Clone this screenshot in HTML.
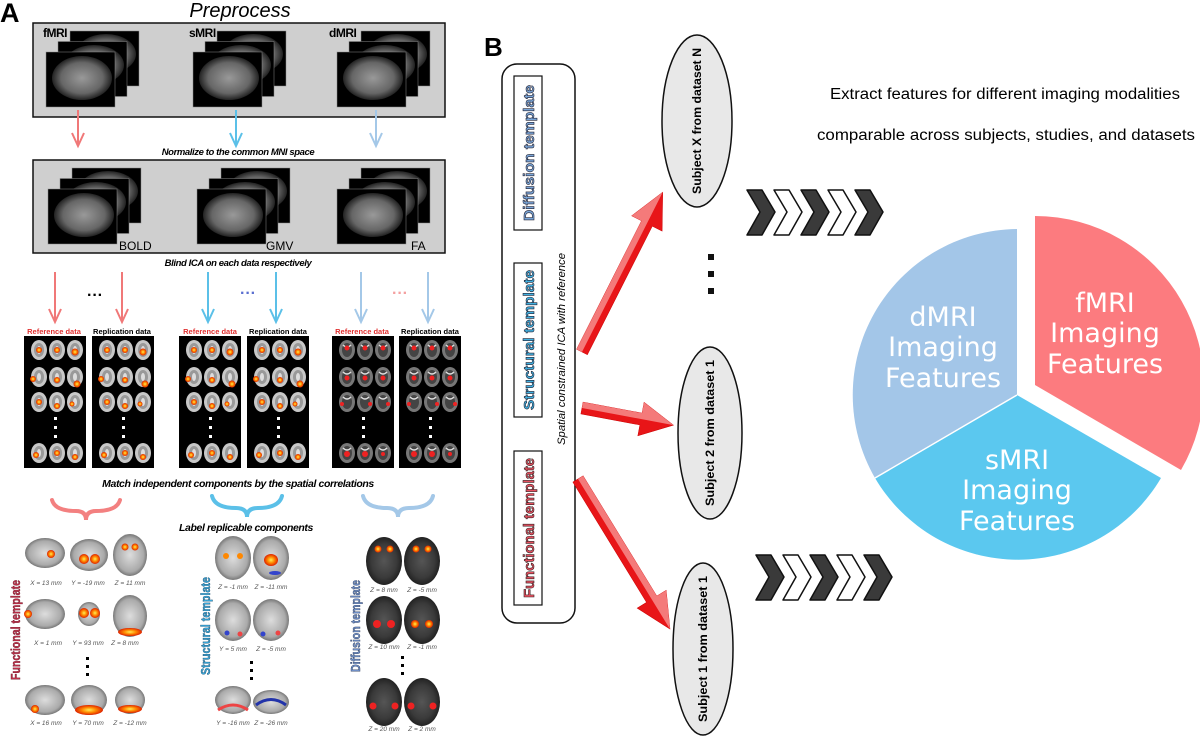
<!DOCTYPE html>
<html><head><meta charset="utf-8"><style>
html,body{margin:0;padding:0;background:#fff;}
svg{display:block;font-family:"Liberation Sans",sans-serif;}
</style></head><body>
<svg width="1200" height="736" viewBox="0 0 1200 736" xmlns="http://www.w3.org/2000/svg">
<defs>
<radialGradient id="gb" cx="50%" cy="50%" r="50%"><stop offset="0" stop-color="#999"/><stop offset="0.7" stop-color="#666"/><stop offset="1" stop-color="#222"/></radialGradient>
<radialGradient id="gw" cx="50%" cy="50%" r="50%"><stop offset="0" stop-color="#ddd"/><stop offset="0.8" stop-color="#aaa"/><stop offset="1" stop-color="#777"/></radialGradient>
<radialGradient id="hot" cx="50%" cy="50%" r="50%"><stop offset="0" stop-color="#ffee55"/><stop offset="0.5" stop-color="#ff8800"/><stop offset="1" stop-color="#dd2200"/></radialGradient>
<radialGradient id="dg" cx="50%" cy="50%" r="50%"><stop offset="0" stop-color="#555"/><stop offset="0.7" stop-color="#3a3a3a"/><stop offset="1" stop-color="#222"/></radialGradient>
<symbol id="br" overflow="visible"><ellipse cx="0" cy="0" rx="8" ry="10" fill="#c8c8c8"/><ellipse cx="0" cy="0" rx="5" ry="7" fill="#999"/><ellipse cx="0" cy="0" rx="2" ry="4" fill="#ddd"/></symbol>
<symbol id="bd" overflow="visible"><ellipse cx="0" cy="0" rx="8" ry="10" fill="#777"/><ellipse cx="0" cy="0" rx="5" ry="7" fill="#444"/><path d="M-4,-5 Q0,-1 4,-5" stroke="#ddd" stroke-width="1.3" fill="none"/></symbol>
<g id="panelW">
<rect x="0" y="0" width="62" height="132" fill="#000"/>
<use href="#br" x="15" y="14"/><use href="#br" x="33" y="14"/><use href="#br" x="51" y="14"/>
<use href="#br" x="15" y="41"/><use href="#br" x="33" y="41"/><use href="#br" x="51" y="41"/>
<use href="#br" x="15" y="66"/><use href="#br" x="33" y="66"/><use href="#br" x="51" y="66"/>
<use href="#br" x="15" y="117"/><use href="#br" x="33" y="117"/><use href="#br" x="51" y="117"/>
<rect x="30" y="81" width="3" height="3" fill="#fff"/><rect x="30" y="90" width="3" height="3" fill="#fff"/><rect x="30" y="99" width="3" height="3" fill="#fff"/>
<circle cx="15" cy="14" r="3" fill="url(#hot)"/><circle cx="33" cy="14" r="3" fill="url(#hot)"/><circle cx="51" cy="16" r="3.5" fill="url(#hot)"/>
<circle cx="9" cy="43" r="3" fill="url(#hot)"/><circle cx="33" cy="44" r="3" fill="url(#hot)"/><circle cx="53" cy="48" r="3.5" fill="url(#hot)"/>
<circle cx="15" cy="66" r="3" fill="url(#hot)"/><circle cx="33" cy="70" r="3" fill="url(#hot)"/><circle cx="48" cy="68" r="2.5" fill="url(#hot)"/>
<circle cx="12" cy="119" r="3" fill="url(#hot)"/><circle cx="33" cy="117" r="3" fill="url(#hot)"/><circle cx="51" cy="121" r="3" fill="url(#hot)"/>
</g>
<g id="panelD">
<rect x="0" y="0" width="62" height="132" fill="#000"/>
<use href="#bd" x="15" y="14"/><use href="#bd" x="33" y="14"/><use href="#bd" x="51" y="14"/>
<use href="#bd" x="15" y="41"/><use href="#bd" x="33" y="41"/><use href="#bd" x="51" y="41"/>
<use href="#bd" x="15" y="66"/><use href="#bd" x="33" y="66"/><use href="#bd" x="51" y="66"/>
<use href="#bd" x="15" y="117"/><use href="#bd" x="33" y="117"/><use href="#bd" x="51" y="117"/>
<rect x="30" y="81" width="3" height="3" fill="#fff"/><rect x="30" y="90" width="3" height="3" fill="#fff"/><rect x="30" y="99" width="3" height="3" fill="#fff"/>
<circle cx="15" cy="12" r="2.5" fill="#e22"/><circle cx="33" cy="12" r="2.5" fill="#e22"/><circle cx="51" cy="12" r="2.5" fill="#e22"/>
<circle cx="15" cy="42" r="2.5" fill="#e22"/><circle cx="33" cy="42" r="2.5" fill="#e22"/><circle cx="51" cy="42" r="2.5" fill="#e22"/>
<circle cx="10" cy="68" r="2" fill="#e22"/><circle cx="38" cy="68" r="2" fill="#e22"/><circle cx="56" cy="68" r="2" fill="#e22"/>
<circle cx="15" cy="118" r="3" fill="#e22"/><circle cx="33" cy="118" r="3" fill="#e22"/><circle cx="51" cy="118" r="2" fill="#e22"/>
</g>
<symbol id="stk" overflow="visible">
<rect x="24" y="-21" width="69" height="55" fill="#000" stroke="#888" stroke-width="0.5"/>
<ellipse cx="60" cy="2" rx="30" ry="20" fill="url(#gb)"/>
<rect x="12" y="-10.5" width="69" height="55" fill="#000" stroke="#888" stroke-width="0.5"/>
<ellipse cx="48" cy="13" rx="30" ry="20" fill="url(#gb)"/>
<rect x="0" y="0" width="69" height="55" fill="#000" stroke="#888" stroke-width="0.5"/>
<ellipse cx="36" cy="26" rx="30" ry="22" fill="url(#gb)"/>
</symbol>
</defs>

<!-- PANEL A -->
<text x="0" y="22" font-size="27" font-weight="bold">A</text>
<text x="240" y="17" font-size="20" font-style="italic" text-anchor="middle">Preprocess</text>
<rect x="33" y="23" width="412" height="94" fill="#cfcfcf" stroke="#111" stroke-width="1.5"/>
<use href="#stk" x="46" y="52"/><use href="#stk" x="193" y="52"/><use href="#stk" x="337" y="52"/>
<text x="43" y="37" font-size="12" font-weight="bold" letter-spacing="-0.5">fMRI</text>
<text x="189" y="37" font-size="12" font-weight="bold" letter-spacing="-0.5">sMRI</text>
<text x="329" y="37" font-size="12" font-weight="bold" letter-spacing="-0.5">dMRI</text>
<g stroke-width="2" fill="none">
<line x1="78" y1="110" x2="78" y2="144" stroke="#f07878"/><path d="M72,133 L78,146 L84,133" stroke="#f07878"/>
<line x1="236" y1="110" x2="236" y2="144" stroke="#5bc0e8"/><path d="M230,133 L236,146 L242,133" stroke="#5bc0e8"/>
<line x1="376" y1="110" x2="376" y2="144" stroke="#a4c8e8"/><path d="M370,133 L376,146 L382,133" stroke="#a4c8e8"/>
</g>
<text x="238" y="155" font-size="9.5" font-weight="bold" font-style="italic" text-anchor="middle" letter-spacing="-0.4">Normalize to the common MNI space</text>
<rect x="33" y="160" width="412" height="93" fill="#cfcfcf" stroke="#111" stroke-width="1.5"/>
<use href="#stk" x="48" y="189"/><use href="#stk" x="197" y="189"/><use href="#stk" x="337" y="189"/>
<text x="119" y="250" font-size="12">BOLD</text>
<text x="266" y="250" font-size="12">GMV</text>
<text x="411" y="250" font-size="12">FA</text>
<text x="238" y="266" font-size="9.5" font-weight="bold" font-style="italic" text-anchor="middle" letter-spacing="-0.4">Blind ICA on each data respectively</text>
<g stroke-width="2" fill="none">
<g stroke="#f07878"><line x1="55" y1="272" x2="55" y2="320"/><path d="M49,309 L55,322 L61,309"/><line x1="122" y1="272" x2="122" y2="320"/><path d="M116,309 L122,322 L128,309"/></g>
<g stroke="#5bc0e8"><line x1="208" y1="272" x2="208" y2="320"/><path d="M202,309 L208,322 L214,309"/><line x1="276" y1="272" x2="276" y2="320"/><path d="M270,309 L276,322 L282,309"/></g>
<g stroke="#a4c8e8"><line x1="361" y1="272" x2="361" y2="320"/><path d="M355,309 L361,322 L367,309"/><line x1="428" y1="272" x2="428" y2="320"/><path d="M422,309 L428,322 L434,309"/></g>
</g>
<text x="95" y="300" font-size="16" font-weight="bold" text-anchor="middle">···</text>
<text x="248" y="298" font-size="16" font-weight="bold" text-anchor="middle" fill="#5a6fd0">···</text>
<text x="400" y="298" font-size="16" font-weight="bold" text-anchor="middle" fill="#f4a0a0">···</text>
<g font-size="7.5" font-weight="bold" text-anchor="middle">
<text x="54" y="334" fill="#e03030">Reference data</text><text x="122" y="334">Replication data</text>
<text x="210" y="334" fill="#e03030">Reference data</text><text x="278" y="334">Replication data</text>
<text x="362" y="334" fill="#e03030">Reference data</text><text x="430" y="334">Replication data</text>
</g>
<use href="#panelW" x="24" y="336"/><use href="#panelW" x="92" y="336"/>
<use href="#panelW" x="179" y="336"/><use href="#panelW" x="247" y="336"/>
<use href="#panelD" x="332" y="336"/><use href="#panelD" x="399" y="336"/>
<text x="238" y="487" font-size="10.5" font-weight="bold" font-style="italic" text-anchor="middle" letter-spacing="-0.4">Match independent components by the spatial correlations</text>
<g fill="none" stroke-width="4" stroke-linecap="round">
<path d="M52,500 Q55,511 76,511 Q86,511 86,520 Q86,511 96,511 Q117,511 120,500" stroke="#f38080"/>
<path d="M212,496 Q215,508 236,508 Q247,508 247,517 Q247,508 258,508 Q279,508 282,496" stroke="#5bc0e8"/>
<path d="M363,496 Q366,508 387,508 Q398,508 398,517 Q398,508 409,508 Q430,508 433,496" stroke="#a4c8e8"/>
</g>
<text x="246" y="531" font-size="10.5" font-weight="bold" font-style="italic" text-anchor="middle" letter-spacing="-0.4">Label replicable components</text>

<!-- functional template -->
<g>
<ellipse cx="45" cy="553" rx="20" ry="15" fill="url(#gw)"/><ellipse cx="89" cy="555" rx="19" ry="16" fill="url(#gw)"/><ellipse cx="130" cy="555" rx="17" ry="21" fill="url(#gw)"/>
<circle cx="51" cy="554" r="4" fill="url(#hot)"/><circle cx="84" cy="559" r="5" fill="url(#hot)"/><circle cx="95" cy="559" r="5" fill="url(#hot)"/><circle cx="125" cy="547" r="3.5" fill="url(#hot)"/><circle cx="135" cy="547" r="3.5" fill="url(#hot)"/>
<ellipse cx="45" cy="614" rx="20" ry="15" fill="url(#gw)"/><ellipse cx="89" cy="614" rx="11" ry="12" fill="url(#gw)"/><ellipse cx="130" cy="616" rx="17" ry="21" fill="url(#gw)"/>
<circle cx="28" cy="614" r="4" fill="url(#hot)"/><circle cx="84" cy="613" r="5" fill="url(#hot)"/><circle cx="95" cy="613" r="5" fill="url(#hot)"/><ellipse cx="130" cy="632" rx="12" ry="4" fill="url(#hot)"/>
<ellipse cx="45" cy="700" rx="20" ry="15" fill="url(#gw)"/><ellipse cx="89" cy="700" rx="18" ry="15" fill="url(#gw)"/><ellipse cx="130" cy="700" rx="15" ry="14" fill="url(#gw)"/>
<circle cx="35" cy="709" r="4" fill="url(#hot)"/><ellipse cx="89" cy="710" rx="14" ry="5" fill="url(#hot)"/><ellipse cx="130" cy="709" rx="12" ry="4" fill="url(#hot)"/>
<g fill="#000"><rect x="86" y="657" width="3" height="3"/><rect x="86" y="665" width="3" height="3"/><rect x="86" y="673" width="3" height="3"/></g>
<g font-size="6.5" font-style="italic" fill="#555" text-anchor="middle">
<text x="46" y="585">X = 13 mm</text><text x="88" y="585">Y = -19 mm</text><text x="130" y="585">Z = 11 mm</text>
<text x="48" y="645">X = 1 mm</text><text x="88" y="645">Y = 93 mm</text><text x="125" y="645">Z = 8 mm</text>
<text x="46" y="725">X = 16 mm</text><text x="88" y="725">Y = 70 mm</text><text x="130" y="725">Z = -12 mm</text>
</g>
<text transform="translate(20,630) rotate(-90)" font-size="13" font-weight="bold" fill="#c0304a" stroke="#601020" stroke-width="0.4" text-anchor="middle" textLength="100" lengthAdjust="spacingAndGlyphs">Functional template</text>
</g>
<!-- structural template -->
<g>
<ellipse cx="233" cy="558" rx="18" ry="22" fill="url(#gw)"/><ellipse cx="271" cy="558" rx="18" ry="22" fill="url(#gw)"/>
<circle cx="226" cy="556" r="3" fill="#f80"/><circle cx="240" cy="556" r="3" fill="#f80"/><ellipse cx="271" cy="560" rx="7" ry="6" fill="url(#hot)"/><ellipse cx="275" cy="573" rx="6" ry="2" fill="#3344cc"/>
<ellipse cx="233" cy="620" rx="18" ry="21" fill="url(#gw)"/><ellipse cx="271" cy="620" rx="18" ry="21" fill="url(#gw)"/>
<circle cx="227" cy="633" r="2.5" fill="#3344cc"/><circle cx="240" cy="634" r="2.5" fill="#e44"/><circle cx="263" cy="634" r="2.5" fill="#3344cc"/><circle cx="278" cy="633" r="2.5" fill="#e44"/>
<ellipse cx="233" cy="700" rx="18" ry="14" fill="url(#gw)"/><ellipse cx="271" cy="702" rx="18" ry="12" fill="url(#gw)"/>
<path d="M218,710 Q233,700 248,710" stroke="#e44" stroke-width="3" fill="none"/><path d="M256,705 Q271,694 286,705" stroke="#2233aa" stroke-width="3" fill="none"/>
<g fill="#000"><rect x="250" y="661" width="3" height="3"/><rect x="250" y="669" width="3" height="3"/><rect x="250" y="677" width="3" height="3"/></g>
<g font-size="6.5" font-style="italic" fill="#555" text-anchor="middle">
<text x="233" y="589">Z = -1 mm</text><text x="271" y="589">Z = -11 mm</text>
<text x="233" y="651">Y = 5 mm</text><text x="271" y="651">Z = -5 mm</text>
<text x="233" y="725">Y = -16 mm</text><text x="271" y="725">Z = -26 mm</text>
</g>
<text transform="translate(210,626) rotate(-90)" font-size="13" font-weight="bold" fill="#3aa7d9" stroke="#104060" stroke-width="0.4" text-anchor="middle" textLength="98" lengthAdjust="spacingAndGlyphs">Structural template</text>
</g>
<!-- diffusion template -->
<g>
<ellipse cx="384" cy="561" rx="18" ry="24" fill="url(#dg)"/><ellipse cx="422" cy="561" rx="18" ry="24" fill="url(#dg)"/>
<circle cx="378" cy="549" r="3.5" fill="url(#hot)"/><circle cx="390" cy="549" r="3.5" fill="url(#hot)"/><circle cx="416" cy="549" r="3.5" fill="url(#hot)"/><circle cx="428" cy="549" r="3.5" fill="url(#hot)"/>
<ellipse cx="384" cy="620" rx="18" ry="24" fill="url(#dg)"/><ellipse cx="422" cy="620" rx="18" ry="24" fill="url(#dg)"/>
<circle cx="377" cy="624" r="4" fill="#e22"/><circle cx="391" cy="624" r="4" fill="#e22"/><circle cx="415" cy="624" r="4" fill="url(#hot)"/><circle cx="429" cy="624" r="4" fill="url(#hot)"/>
<ellipse cx="384" cy="702" rx="18" ry="24" fill="url(#dg)"/><ellipse cx="422" cy="702" rx="18" ry="24" fill="url(#dg)"/>
<circle cx="373" cy="706" r="3.5" fill="#e22"/><circle cx="395" cy="706" r="3.5" fill="#e22"/><circle cx="411" cy="706" r="3.5" fill="#e22"/><circle cx="433" cy="706" r="3.5" fill="#e22"/>
<g fill="#000"><rect x="401" y="656" width="3" height="3"/><rect x="401" y="664" width="3" height="3"/><rect x="401" y="672" width="3" height="3"/></g>
<g font-size="6.5" font-style="italic" fill="#555" text-anchor="middle">
<text x="384" y="592">Z = 8 mm</text><text x="422" y="592">Z = -5 mm</text>
<text x="384" y="649">Z = 10 mm</text><text x="422" y="649">Z = -1 mm</text>
<text x="384" y="731">Z = 20 mm</text><text x="422" y="731">Z = 2 mm</text>
</g>
<text transform="translate(360,626) rotate(-90)" font-size="13" font-weight="bold" fill="#7090c8" stroke="#203050" stroke-width="0.4" text-anchor="middle" textLength="92" lengthAdjust="spacingAndGlyphs">Diffusion template</text>
</g>

<!-- PANEL B -->
<text x="484" y="56" font-size="26" font-weight="bold">B</text>
<rect x="502" y="64" width="73" height="559" rx="15" fill="#fff" stroke="#111" stroke-width="1.5"/>
<rect x="514" y="76" width="28" height="154" fill="#fff" stroke="#111" stroke-width="1.2"/>
<rect x="514" y="263" width="28" height="154" fill="#fff" stroke="#111" stroke-width="1.2"/>
<rect x="514" y="451" width="28" height="154" fill="#fff" stroke="#111" stroke-width="1.2"/>
<g font-size="15" font-weight="bold" text-anchor="middle" stroke-width="0.6">
<text transform="translate(534,153) rotate(-90)" fill="#7aa6d8" stroke="#223" textLength="136" lengthAdjust="spacingAndGlyphs">Diffusion template</text>
<text transform="translate(534,340) rotate(-90)" fill="#40b0e0" stroke="#223" textLength="140" lengthAdjust="spacingAndGlyphs">Structural template</text>
<text transform="translate(534,528) rotate(-90)" fill="#e85060" stroke="#322" textLength="140" lengthAdjust="spacingAndGlyphs">Functional template</text>
</g>
<text transform="translate(565,349) rotate(-90)" font-size="11" font-style="italic" text-anchor="middle" textLength="192" lengthAdjust="spacingAndGlyphs">Spatial constrained ICA with reference</text>

<g stroke="#111" stroke-width="1.5" fill="#e8e8e8">
<ellipse cx="697" cy="121" rx="35" ry="86"/>
<ellipse cx="710" cy="433" rx="32" ry="86"/>
<ellipse cx="703" cy="649" rx="30" ry="86"/>
</g>
<g font-size="12" font-weight="bold" text-anchor="middle">
<text transform="translate(701,121) rotate(-90)" textLength="146" lengthAdjust="spacingAndGlyphs">Subject X from dataset N</text>
<text transform="translate(714,433) rotate(-90)" textLength="146" lengthAdjust="spacingAndGlyphs">Subject 2 from dataset 1</text>
<text transform="translate(707,649) rotate(-90)" textLength="146" lengthAdjust="spacingAndGlyphs">Subject 1 from dataset 1</text>
</g>
<g fill="#111"><rect x="708" y="254" width="6" height="6"/><rect x="708" y="271" width="6" height="6"/><rect x="708" y="288" width="6" height="6"/></g>

<!-- red arrows -->
<g>
<g transform="translate(582,352) rotate(-63.2)"><polygon points="0,-6 144,-6 144,-17 179,0 144,17 144,6 0,6" fill="#e81518" stroke="#c00" stroke-width="0.5"/><polygon points="0,-6 144,-6 144,-17 179,0 0,0" fill="#f47a7a"/></g>
<g transform="translate(582,408) rotate(10.6)"><polygon points="0,-6 60,-6 60,-17 93,0 60,17 60,6 0,6" fill="#e81518" stroke="#c00" stroke-width="0.5"/><polygon points="0,-6 60,-6 60,-17 93,0 0,0" fill="#f47a7a"/></g>
<g transform="translate(578,479) rotate(58.5)"><polygon points="0,-6 141,-6 141,-17 176,0 141,17 141,6 0,6" fill="#e81518" stroke="#c00" stroke-width="0.5"/><polygon points="0,-6 141,-6 141,-17 176,0 0,0" fill="#f47a7a"/></g>
</g>

<!-- chevrons -->
<g stroke="#111" stroke-width="1.5" stroke-linejoin="round">
<g transform="translate(747,190)">
<polygon points="0,0 15,0 28,22 15,45 0,45 13,22" fill="#3a3a3a"/>
<polygon points="27,0 42,0 55,22 42,45 27,45 40,22" fill="#fff"/>
<polygon points="54,0 69,0 82,22 69,45 54,45 67,22" fill="#3a3a3a"/>
<polygon points="81,0 96,0 109,22 96,45 81,45 94,22" fill="#fff"/>
<polygon points="108,0 123,0 136,22 123,45 108,45 121,22" fill="#3a3a3a"/>
</g>
<g transform="translate(756,555)">
<polygon points="0,0 15,0 28,22 15,45 0,45 13,22" fill="#3a3a3a"/>
<polygon points="27,0 42,0 55,22 42,45 27,45 40,22" fill="#fff"/>
<polygon points="54,0 69,0 82,22 69,45 54,45 67,22" fill="#3a3a3a"/>
<polygon points="81,0 96,0 109,22 96,45 81,45 94,22" fill="#fff"/>
<polygon points="108,0 123,0 136,22 123,45 108,45 121,22" fill="#3a3a3a"/>
</g>
</g>

<text x="1005" y="99" font-size="15.5" text-anchor="middle" textLength="350" lengthAdjust="spacingAndGlyphs">Extract features for different imaging modalities</text>
<text x="1006" y="140" font-size="15.5" text-anchor="middle" textLength="378" lengthAdjust="spacingAndGlyphs">comparable across subjects, studies, and datasets</text>

<!-- pie -->
<path d="M1017,395 L875,478 A166,166 0 0 1 1017,229 Z" fill="#a3c6e8"/>
<path d="M1017,395 L1161,478 A166,166 0 0 1 875,478 Z" fill="#5bc8ef"/>
<path d="M1017,395 L875,478" stroke="#fff" stroke-width="1.5"/>
<path d="M1035,385 L1035,216 A169,169 0 0 1 1181,470 Z" fill="#fc7b7f"/>
<g font-size="27" fill="#fff" text-anchor="middle" font-family="'DejaVu Sans','Liberation Sans',sans-serif">
<text x="943" y="326">dMRI</text><text x="943" y="356">Imaging</text><text x="943" y="387">Features</text>
<text x="1105" y="312">fMRI</text><text x="1105" y="342">Imaging</text><text x="1105" y="373">Features</text>
<text x="1017" y="469">sMRI</text><text x="1017" y="499">Imaging</text><text x="1017" y="530">Features</text>
</g>
</svg>
</body></html>
